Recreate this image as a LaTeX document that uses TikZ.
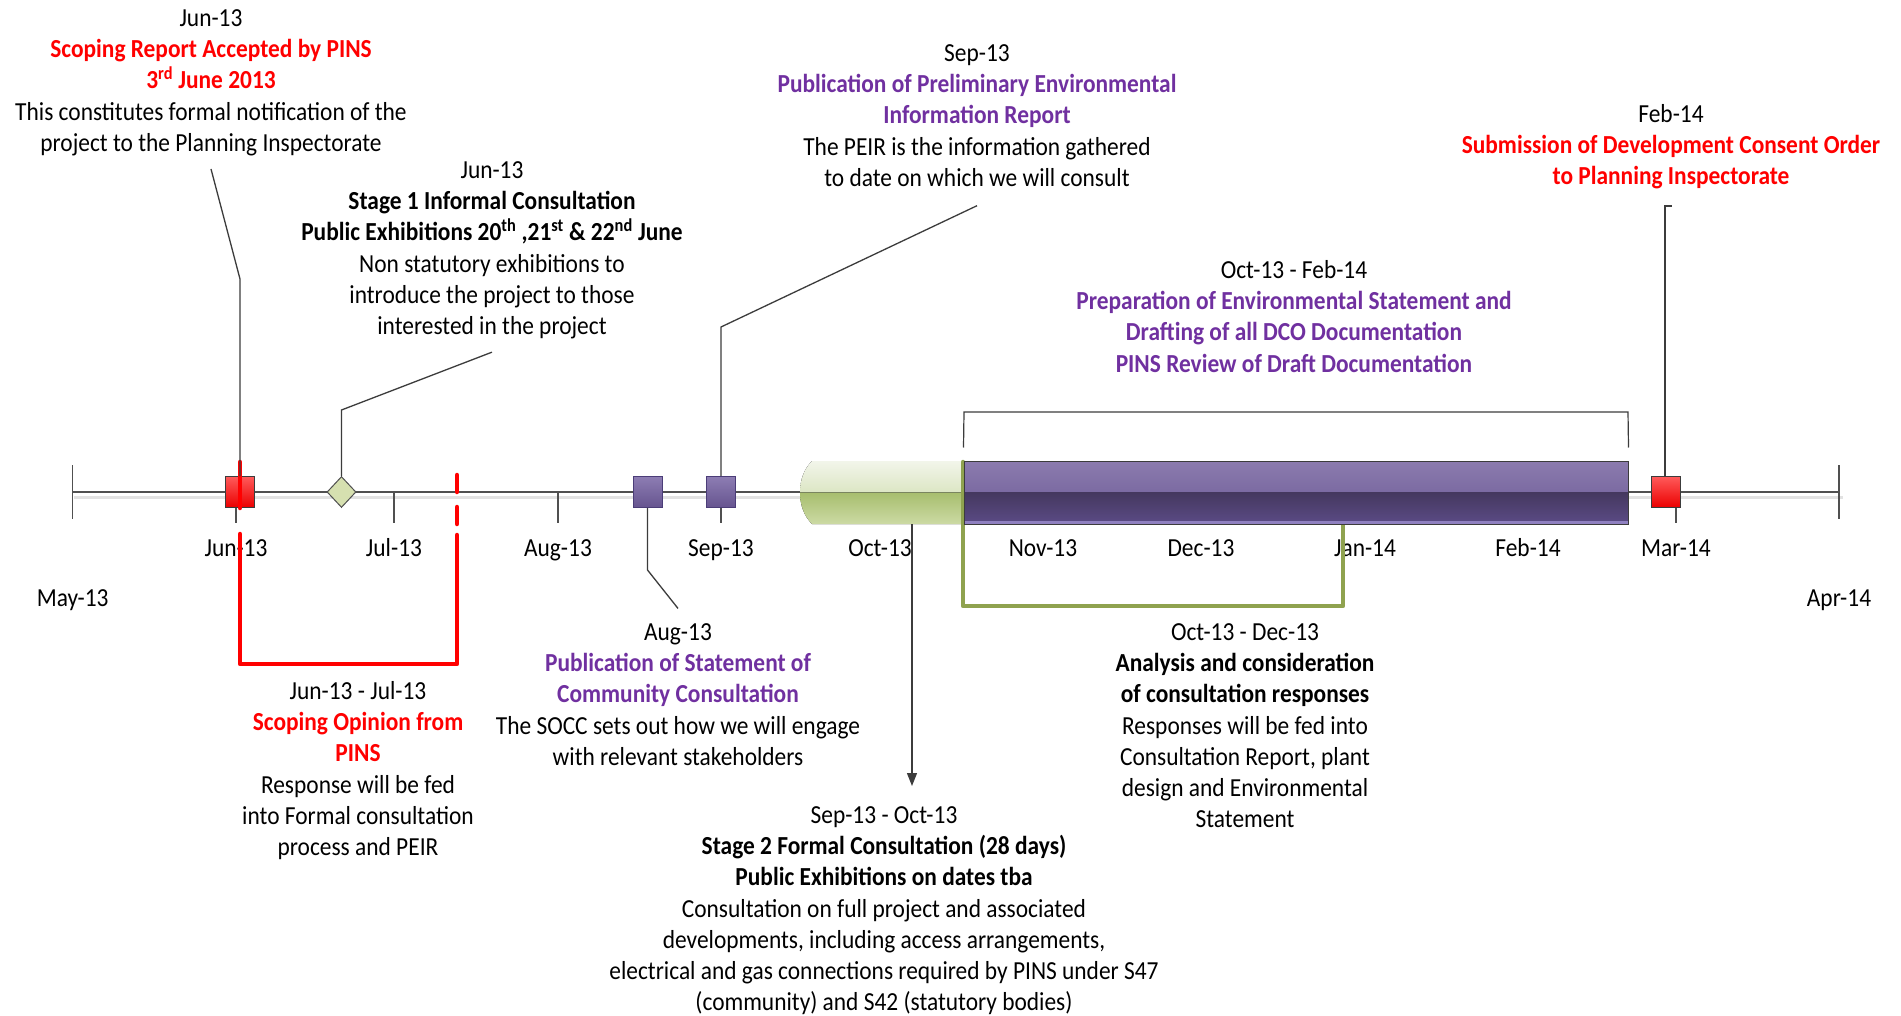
\documentclass[tikz,border=0pt]{standalone}
\usepackage{fontspec}
\setmainfont{Carlito}[FakeStretch=0.9]
\usetikzlibrary{shapes.geometric,arrows.meta}
\definecolor{myred}{HTML}{FF0000}
\definecolor{mypurple}{HTML}{7030A0}
\definecolor{linegray}{HTML}{3C3C3C}
\definecolor{axisgray}{HTML}{505050}
\definecolor{shadowgray}{HTML}{E2E2E2}
\definecolor{redtop}{HTML}{FF5A5A}
\definecolor{redbot}{HTML}{EB0000}
\definecolor{purtop}{HTML}{8D7DB3}
\definecolor{purbot}{HTML}{66548F}
\definecolor{purborder}{HTML}{4B3D78}
\definecolor{diafill}{HTML}{D6E0B0}
\definecolor{brgreen}{HTML}{8FA24F}
\definecolor{ptopa}{HTML}{8B7BAE}
\definecolor{ptopb}{HTML}{6C5A96}
\definecolor{pbota}{HTML}{45385F}
\definecolor{pbotb}{HTML}{5B4B86}
\definecolor{pline}{HTML}{8F80C0}
\definecolor{gtopa}{HTML}{F2F5EA}
\definecolor{gtopb}{HTML}{DCE6C4}
\definecolor{gbota}{HTML}{A7BE6E}
\definecolor{gbotb}{HTML}{CCDAA4}
\begin{document}
\begin{tikzpicture}[x=1pt,y=-1pt,
  txt/.style={align=center,inner sep=0pt,font=\fontsize{26}{31.2}\selectfont,anchor=base},
  conn/.style={draw=linegray,line width=1.3pt},
  tickline/.style={draw=axisgray,line width=1.2pt},
  redsq/.style={rectangle,inner sep=0pt,minimum width=29pt,minimum height=31pt,draw=linegray,line width=0.9pt,top color=redtop,bottom color=redbot},
  purplesq/.style={rectangle,inner sep=0pt,minimum width=29pt,minimum height=31pt,draw=purborder,line width=1pt,top color=purtop,bottom color=purbot},
  diam/.style={diamond,inner sep=0pt,minimum width=29pt,minimum height=31pt,draw=axisgray,line width=1pt,fill=diafill},
  redbr/.style={draw=myred,line width=4.5pt,line cap=round,line join=round},
  greenbr/.style={draw=brgreen,line width=4.5pt,line cap=round,line join=round},
  grbr/.style={draw=linegray,line width=1.2pt},
]
\fill[white] (0,0) rectangle (1901,1016);
\useasboundingbox (0,0) rectangle (1901,1016);

% axis
\draw[shadowgray,line width=3pt] (74,497) -- (1843,497);
\draw[axisgray,line width=1.5pt] (72.7,492) -- (1839,492);
\draw[tickline] (72.7,465) -- (72.7,519);
\draw[tickline] (1839,465) -- (1839,519);
\foreach \x in {236,394,558,721,880,1043,1201,1365,1528,1676}
  \draw[tickline] (\x,492) -- (\x,523);

% month labels
\node[txt] (mMay) at (72.7,606.5) {May-13};
\node[txt] (mJun) at (236,556.5) {Jun-13};
\node[txt] (mJul) at (394,556.5) {Jul-13};
\node[txt] (mAug) at (558,556.5) {Aug-13};
\node[txt] (mSep) at (721,556.5) {Sep-13};
\node[txt] (mOct) at (880,556.5) {Oct-13};
\node[txt] (mNov) at (1043,556.5) {Nov-13};
\node[txt] (mDec) at (1201,556.5) {Dec-13};
\node[txt] (mJan) at (1365,556.5) {Jan-14};
\node[txt] (mFeb) at (1528,556.5) {Feb-14};
\node[txt] (mMar) at (1676,556.5) {Mar-14};
\node[txt] (mApr) at (1839,606.5) {Apr-14};

% green stage-2 bar
\node[inner sep=0pt,minimum width=164pt,minimum height=63pt] (gbar) at (882,492.5) {};
\fill[top color=gtopa,bottom color=gtopb] (964,461) -- (812,461) .. controls (804,469) and (800,480) .. (800,492.5) -- (964,492.5) -- cycle;
\fill[top color=gbota,bottom color=gbotb] (800,492.5) .. controls (800,505) and (804,516) .. (812,524) -- (964,524) -- (964,492.5) -- cycle;

% green bracket (analysis)
\coordinate (gL) at (963,462);
\coordinate (gR) at (1343,522);
\draw[greenbr] (gL) -- (963,606) -- (1343,606) -- (gR);

% purple bar
\node[inner sep=0pt,minimum width=664pt,minimum height=63pt,draw=linegray,line width=1pt,
  path picture={
    \fill[top color=ptopa,bottom color=ptopb] (path picture bounding box.north west) rectangle (path picture bounding box.east);
    \fill[top color=pbota,bottom color=pbotb] (path picture bounding box.west) rectangle (path picture bounding box.south east);
    \fill[pline] ([yshift=3pt]path picture bounding box.south west) rectangle (path picture bounding box.south east);
  }] (pbar) at (1296,492.5) {};

% gray bracket above purple bar
\draw[grbr] ([yshift=13pt]pbar.north west) -- (964,412) -- (1628,412) -- ([yshift=13pt]pbar.north east);

% markers
\node[redsq] (sqA) at (240,492) {};
\node[diam] (dB) at (341.5,492) {};
\node[purplesq] (sqC) at (647.5,492) {};
\node[purplesq] (sqD) at (721,492) {};
\node[redsq] (sqH) at (1666,492) {};

% red bracket (scoping opinion)
\draw[redbr] (240,462) -- (240,508);
\draw[redbr] (240,534) -- (240,664) -- (457,664) -- (457,535);
\draw[redbr] (457,524) -- (457,507);
\draw[redbr] (457,492) -- (457,475);

% text blocks (anchor = baseline of the last line)
\node[txt] (tA) at (211,151.3) {Jun-13\\
  {\color{myred}\bfseries Scoping Report Accepted by PINS}\\
  {\color{myred}\bfseries 3\textsuperscript{rd} June 2013}\\
  This constitutes formal notification of the\\
  project to the Planning Inspectorate};

\node[txt] (tB) at (492,334.5) {Jun-13\\
  {\bfseries Stage 1 Informal Consultation}\\
  {\bfseries Public Exhibitions 20\textsuperscript{th} ,21\textsuperscript{st} \& 22\textsuperscript{nd} June}\\
  Non statutory exhibitions to\\
  introduce the project to those\\
  interested in the project};

\node[txt] (tD) at (977,186.3) {Sep-13\\
  {\color{mypurple}\bfseries Publication of Preliminary Environmental}\\
  {\color{mypurple}\bfseries Information Report}\\
  The PEIR is the information gathered\\
  to date on which we will consult};

\node[txt] (tF) at (1294,372.1) {Oct-13 - Feb-14\\
  {\color{mypurple}\bfseries Preparation of Environmental Statement and}\\
  {\color{mypurple}\bfseries Drafting of all DCO Documentation}\\
  {\color{mypurple}\bfseries PINS Review of Draft Documentation}};

\node[txt] (tH) at (1671,184.9) {Feb-14\\
  {\color{myred}\bfseries Submission of Development Consent Order}\\
  {\color{myred}\bfseries to Planning Inspectorate}};

\node[txt] (tC) at (678,765.3) {Aug-13\\
  {\color{mypurple}\bfseries Publication of Statement of}\\
  {\color{mypurple}\bfseries Community Consultation}\\
  The SOCC sets out how we will engage\\
  with relevant stakeholders};

\node[txt] (tJ) at (358,855.5) {Jun-13 - Jul-13\\
  {\color{myred}\bfseries Scoping Opinion from}\\
  {\color{myred}\bfseries PINS}\\
  Response will be fed\\
  into Formal consultation\\
  process and PEIR};

\node[txt] (tS) at (884,1010.7) {Sep-13 - Oct-13\\
  {\bfseries Stage 2 Formal Consultation (28 days)}\\
  {\bfseries Public Exhibitions on dates tba}\\
  Consultation on full project and associated\\
  developments, including access arrangements,\\
  electrical and gas connections required by PINS under S47\\
  (community) and S42 (statutory bodies)};

\node[txt] (tG) at (1245,827.7) {Oct-13 - Dec-13\\
  {\bfseries Analysis and consideration}\\
  {\bfseries of consultation responses}\\
  Responses will be fed into\\
  Consultation Report, plant\\
  design and Environmental\\
  Statement};

% connectors
\coordinate (aElb) at (240,279);
\draw[conn] ([yshift=-13pt]tA.south) -- (aElb) -- (sqA.north);
\coordinate (bElb) at (341.5,410);
\draw[conn] ([yshift=-13pt]tB.south) -- (bElb) -- (dB.north);
\coordinate (cElb) at (647.5,570);
\draw[conn] (sqC.south) -- (cElb) -- ([yshift=15pt]tC.north);
\coordinate (dElb) at (721,327);
\draw[conn] (sqD.north) -- (dElb) -- ([yshift=-19pt]tD.south);
\coordinate (hTop) at (1665,206);
\draw[conn] (sqH.north -| hTop) -- (hTop) -- ++(7,0);
\coordinate (sTip) at (912,786);
\draw[conn,-{Triangle[length=13pt,width=10pt]}] (gbar.south -| sTip) -- (sTip);
\end{tikzpicture}
\end{document}
